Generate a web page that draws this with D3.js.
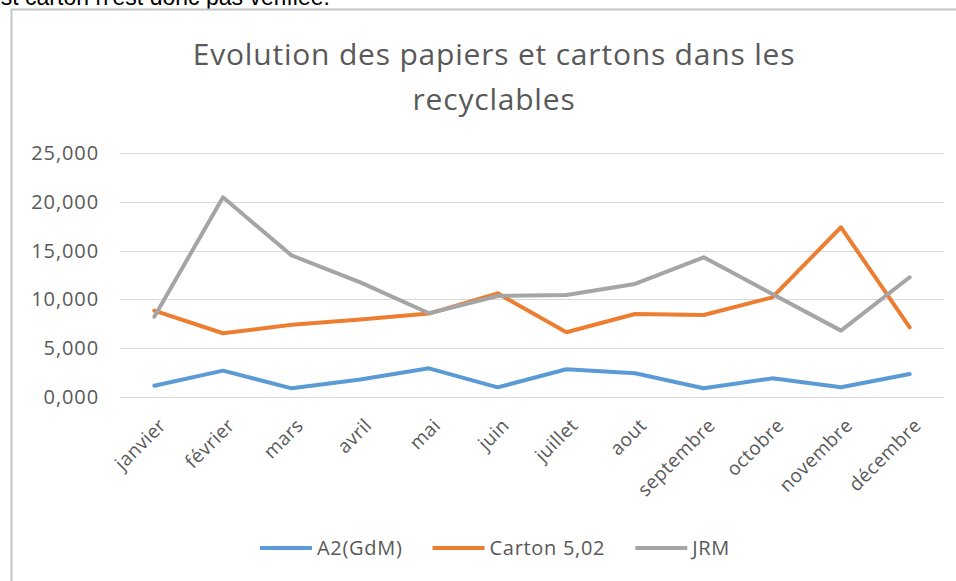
<!DOCTYPE html>
<html>
<head>
<meta charset="utf-8">
<script src="https://cdn.jsdelivr.net/npm/d3@7"></script>
<style>
  body { margin: 0; background: #fff; }
  svg { display: block; }
</style>
</head>
<body>
<svg id="chart" width="956" height="581"></svg>
<script>
// mois
var months = ["janvier", "février", "mars", "avril", "mai", "juin", "juillet", "aout", "septembre", "octobre", "novembre", "décembre"]

// valeurs
var a2 = [1.16, 2.70, 0.89, 1.80, 2.94, 0.99, 2.84, 2.43, 0.89, 1.91, 0.99, 2.36]
var carton = [8.84, 6.53, 7.40, 7.95, 8.55, 10.62, 6.63, 8.50, 8.40, 10.21, 17.39, 7.14]
var jrm = [8.23, 20.46, 14.50, 11.75, 8.58, 10.35, 10.45, 11.58, 14.31, 10.55, 6.80, 12.27]

var seriesNames = ["A2(GdM)", "Carton 5,02", "JRM"]
var yTicks = [0, 5, 10, 15, 20, 25]

var colors = ["#5b9bd5", "#ed7d31", "#a5a5a5"]
var allSeries = [a2, carton, jrm]

var svg = d3.select("#chart")
var font = "'Open Sans', 'Noto Sans', sans-serif"

// texte coupé au dessus du graphique
svg.append("text")
  .attr("x", -12)
  .attr("y", 5)
  .style("font-family", "'Liberation Sans', Arial, sans-serif")
  .style("font-size", "23px")
  .style("fill", "#000")
  .text("est carton n'est donc pas vérifiée.")

// cadre
svg.append("path")
  .attr("d", "M11.5,581 L11.5,9.5 L956,9.5")
  .style("fill", "none")
  .style("stroke", "#c6c6c6")
  .style("stroke-width", 2)

var fr = d3.formatLocale({decimal: ",", thousands: " ", grouping: [3], currency: ["", "€"]})
var fmt = fr.format(".3f")

var x = d3.scaleBand().domain(months).range([120, 944]).paddingInner(0).paddingOuter(0)
var y = d3.scaleLinear().domain([0, 25]).range([397, 153])

// titre
var title = svg.append("text")
  .attr("text-anchor", "middle")
  .style("font-family", font)
  .style("font-size", "30px")
  .style("letter-spacing", "0.8px")
  .style("fill", "#595959")
title.append("tspan").attr("x", 494).attr("y", 65).text("Evolution des papiers et cartons dans les")
title.append("tspan").attr("x", 494).attr("y", 110).text("recyclables")

// grille
svg.append("g").selectAll("line")
  .data(yTicks)
  .enter()
  .append("line")
  .attr("x1", 120)
  .attr("x2", 944)
  .attr("y1", d => Math.round(y(d)) + 0.5)
  .attr("y2", d => Math.round(y(d)) + 0.5)
  .style("stroke", "#d9d9d9")
  .style("stroke-width", 1)

// axe y
var yAxis = svg.append("g")
  .attr("transform", "translate(111,0)")
  .call(d3.axisLeft(y).tickValues(yTicks).tickFormat(fmt).tickSize(0).tickPadding(12))
yAxis.select(".domain").remove()
yAxis.selectAll("text")
  .style("font-family", font)
  .style("font-size", "20px")
  .style("letter-spacing", "0.9px")
  .style("fill", "#595959")

// axe x
var xAxis = svg.append("g")
  .attr("transform", "translate(0,397)")
  .call(d3.axisBottom(x).tickSize(0).tickPadding(0))
xAxis.select(".domain").remove()
xAxis.selectAll("text")
  .attr("text-anchor", "end")
  .attr("transform", "translate(8,25) rotate(-45)")
  .attr("dy", "0.35em")
  .attr("y", 0)
  .style("font-family", font)
  .style("font-size", "19px")
  .style("letter-spacing", "0.4px")
  .style("fill", "#595959")

// lignes
var line = d3.line()
  .x((d, i) => x(months[i]) + x.bandwidth() / 2)
  .y(d => y(d))

svg.append("g").selectAll("path")
  .data(allSeries)
  .enter()
  .append("path")
  .attr("d", d => line(d))
  .style("fill", "none")
  .style("stroke", (d, i) => colors[i])
  .style("stroke-width", 4)
  .style("stroke-linejoin", "round")
  .style("stroke-linecap", "round")

// légende
var legend = svg.append("g").attr("transform", "translate(260,548)")
var lx = 0
seriesNames.forEach(function(name, i) {
  var g = legend.append("g").attr("transform", "translate(" + lx + ",0)")
  g.append("line")
    .attr("x1", 0).attr("x2", 52)
    .attr("y1", 0).attr("y2", 0)
    .style("stroke", colors[i])
    .style("stroke-width", 4)
  var t = g.append("text")
    .attr("x", 57)
    .attr("dy", "0.35em")
    .style("font-family", font)
    .style("font-size", "20px")
    .style("letter-spacing", "0.7px")
    .style("fill", "#595959")
    .text(name)
  lx += 57 + t.node().getComputedTextLength() + 30
})
</script>
</body>
</html>
